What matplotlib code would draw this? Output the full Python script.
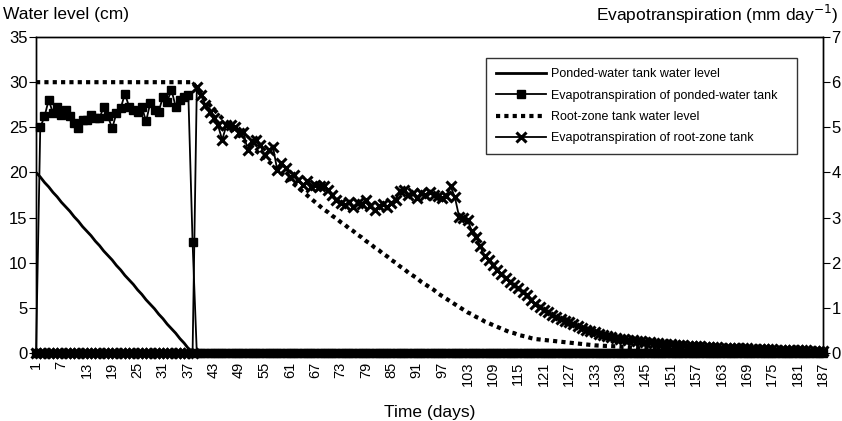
import matplotlib.pyplot as plt

plt.rcParams['font.family'] = ['Liberation Sans', 'DejaVu Sans']

days = list(range(1, 188))

# Ponded-water tank water level (cm), days 1-38 then empty
ponded_level = [20.0, 19.5, 18.9, 18.4, 17.8, 17.3, 16.7, 16.2, 15.7, 15.1,
                14.6, 14.0, 13.5, 13.0, 12.4, 11.9, 11.3, 10.8, 10.3, 9.7,
                9.2, 8.6, 8.1, 7.6, 7.0, 6.5, 5.9, 5.4, 4.9, 4.3,
                3.8, 3.2, 2.7, 2.2, 1.6, 1.1, 0.5, 0.0] + [0.0] * 149

# Evapotranspiration of ponded-water tank (mm/day)
ponded_et = [0.0,
             5.00, 5.24, 5.61, 5.31, 5.46, 5.28, 5.39, 5.24, 5.09, 4.98,
             5.17, 5.17, 5.28, 5.20, 5.20, 5.46, 5.24, 4.98, 5.31, 5.42,
             5.74, 5.46, 5.39, 5.35, 5.46, 5.13, 5.54, 5.39, 5.35, 5.68,
             5.57, 5.83, 5.46, 5.61, 5.68, 5.72,
             2.45] + [0.0] * 149

# Root-zone tank water level (cm)
root_level = [30.0] * 38 + [
    29.3, 28.6, 28.0, 27.5, 27.0, 26.5, 26.0, 25.5, 25.0, 24.6,
    24.1, 23.6, 23.2, 22.8, 22.4, 22.0, 21.6, 21.2, 20.8, 20.3,
    19.9, 19.5, 19.1, 18.7, 18.3, 17.9, 17.5, 17.1, 16.7, 16.3,
    15.9, 15.6, 15.2, 14.9, 14.5, 14.2, 13.8, 13.5, 13.1, 12.8,
    12.4, 12.1, 11.7, 11.4, 11.0, 10.7, 10.3, 10.0, 9.6, 9.3,
    8.9, 8.6, 8.3, 7.9, 7.6, 7.3, 7.0, 6.6, 6.3, 6.0,
    5.7, 5.4, 5.1, 4.8, 4.5, 4.3, 4.0, 3.8, 3.5, 3.3,
    3.1, 2.9, 2.7, 2.5, 2.3, 2.2, 2.0, 1.9, 1.8, 1.65,
    1.55, 1.5, 1.45, 1.4, 1.35, 1.3, 1.25, 1.2, 1.15, 1.1,
    1.05, 1.0, 0.95, 0.9, 0.85, 0.82, 0.8, 0.78, 0.76, 0.74,
    0.7, 0.66, 0.62, 0.58, 0.55, 0.52, 0.49, 0.46, 0.43, 0.4,
    0.38, 0.36,
    0.34, 0.32, 0.30, 0.29, 0.27, 0.26, 0.24, 0.23, 0.22, 0.21,
    0.20, 0.19, 0.18, 0.17, 0.16, 0.15, 0.14, 0.14, 0.13, 0.12,
    0.12, 0.11, 0.10, 0.10, 0.09, 0.09, 0.08, 0.08, 0.07, 0.07,
    0.07, 0.06, 0.06, 0.06, 0.05, 0.05, 0.05]

# Evapotranspiration of root-zone tank (mm/day)
root_et = [0.0] * 38 + [
    5.90, 5.72, 5.50, 5.35, 5.20, 5.05, 4.72, 5.05, 5.05, 5.00,
    4.87, 4.90, 4.50, 4.69, 4.72, 4.60, 4.39, 4.50, 4.57, 4.06,
    4.20, 4.10, 3.91, 3.95, 3.84, 3.73, 3.80, 3.67, 3.72, 3.69,
    3.70, 3.61, 3.50, 3.39, 3.32, 3.28, 3.35, 3.24, 3.32, 3.30,
    3.39, 3.25, 3.17, 3.25, 3.30, 3.24, 3.32, 3.39, 3.58, 3.61,
    3.50, 3.54, 3.43, 3.54, 3.50, 3.57, 3.50, 3.47, 3.43, 3.47,
    3.69, 3.45, 3.02, 2.98, 2.95, 2.70, 2.58, 2.36, 2.14, 2.06,
    1.95, 1.84, 1.75, 1.67, 1.58, 1.50, 1.43, 1.36, 1.29, 1.18,
    1.08, 1.02, 0.96, 0.90, 0.85, 0.80, 0.76, 0.72, 0.68, 0.64,
    0.60, 0.56, 0.52, 0.49, 0.46, 0.43, 0.40, 0.38, 0.36, 0.34,
    0.32, 0.30, 0.29, 0.28, 0.27, 0.26, 0.25, 0.24, 0.23, 0.22,
    0.21, 0.20,
    0.19, 0.18, 0.18, 0.17, 0.16, 0.16, 0.15, 0.15, 0.14, 0.14,
    0.13, 0.13, 0.12, 0.12, 0.11, 0.11, 0.10, 0.10, 0.10, 0.09,
    0.09, 0.09, 0.08, 0.08, 0.08, 0.07, 0.07, 0.07, 0.07, 0.06,
    0.06, 0.06, 0.06, 0.05, 0.05, 0.05, 0.05]

tick_days = list(range(1, 188, 6))

fig = plt.figure(figsize=(8.42, 4.21), dpi=100)
ax = fig.add_axes([0.0428, 0.1615, 0.9346, 0.7505])
ax2 = ax.twinx()

# left axis: water levels
l1, = ax.plot(days, ponded_level, color='black', lw=2.0,
              label='Ponded-water tank water level')
l3, = ax.plot(days, root_level, color='black', lw=3.0, dashes=(1, 1),
              label='Root-zone tank water level')

# right axis: evapotranspiration
l2, = ax2.plot(days, ponded_et, color='black', lw=1.3, marker='s',
               markersize=6.3, clip_on=False,
               label='Evapotranspiration of ponded-water tank')
l4, = ax2.plot(days, root_et, color='black', lw=1.3, marker='x',
               markersize=7, markeredgewidth=2.2, clip_on=False,
               label='Evapotranspiration of root-zone tank')

ax.set_xlim(1, 187)
ax.set_ylim(0, 35)
ax2.set_ylim(0, 7)
ax.set_yticks(range(0, 36, 5))
ax2.set_yticks(range(0, 8))
ax.set_xticks(tick_days)
ax.set_xticklabels([str(d) for d in tick_days], rotation=90, fontsize=10.5)
ax.tick_params(axis='x', length=0, pad=6)
ax.tick_params(axis='y', labelsize=12, length=5, pad=1)
ax2.tick_params(axis='y', labelsize=12, length=5, pad=1)

for a in (ax, ax2):
    for s in a.spines.values():
        s.set_linewidth(1.0)

fig.text(0.004, 0.965, 'Water level (cm)', fontsize=12.5, ha='left', va='center')
fig.text(0.996, 0.965, 'Evapotranspiration (mm day$^{-1}$)', fontsize=12.5,
         ha='right', va='center')
ax.set_xlabel('Time (days)', fontsize=12.5, labelpad=14)

leg = ax2.legend(handles=[l1, l2, l3, l4], loc='upper left',
                 bbox_to_anchor=(0.564, 0.62, 0.411, 0.333),
                 mode='expand', fontsize=9, handlelength=4,
                 labelspacing=0.75, frameon=True, fancybox=False,
                 borderpad=0.8, handletextpad=0.4)
leg.get_frame().set_edgecolor('black')
leg.get_frame().set_linewidth(1.0)

fig.savefig('out.png', dpi=100)
